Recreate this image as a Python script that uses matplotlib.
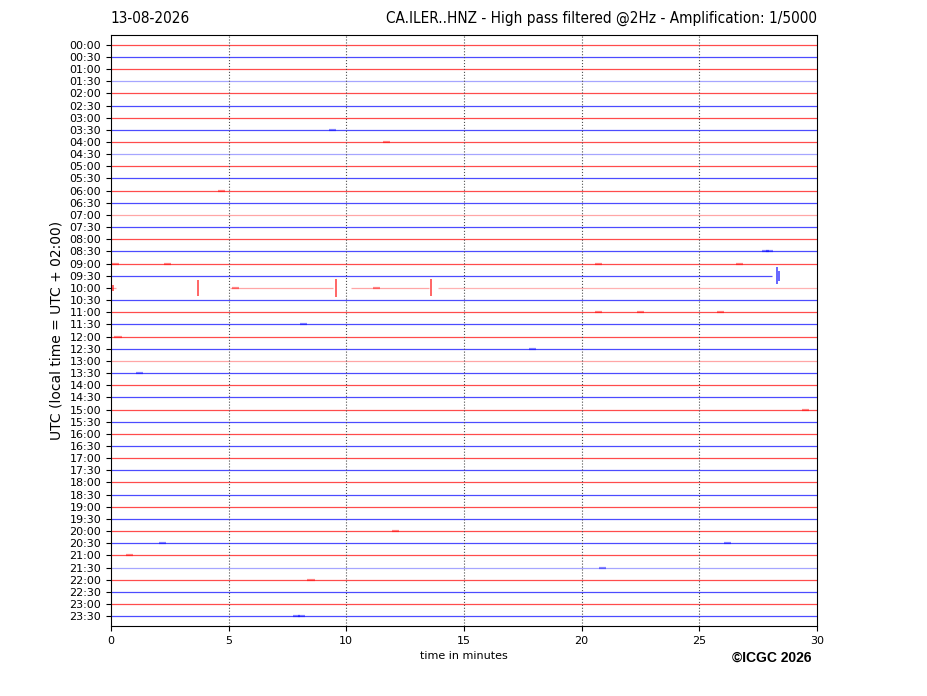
import numpy as np
import matplotlib.pyplot as plt

# helicorder rows: one line every 30 minutes, 48 rows
row_labels = ['%02d:%02d' % (h, m) for h in range(24) for m in (0, 30)]
row_colors = ['red', 'blue'] * 24

# rows drawn fainter (noisier trace)
faint_rows = [3, 9, 14, 20, 26, 43]

# data gaps: row -> list of (start, end) minutes actually recorded
segments = {
    19: [(0.0, 28.1)],
    20: [(0.0, 0.2), (5.05, 9.45), (10.2, 13.5), (13.9, 30.0)],
}

# larger events: (row, minute, half amplitude in row units)
spikes = [
    (20, 0.08, 0.22), (20, 3.70, 0.65), (20, 9.55, 0.75), (20, 13.60, 0.70),
    (19, 28.30, 0.70), (19, 28.40, 0.40),
]

# small bursts seen as short smears on the trace: (row, minute)
blips = [
    (17, 27.80), (17, 28.00), (8, 11.70), (7, 9.40),
    (18, 0.20), (18, 2.40), (18, 20.70), (18, 26.70), (20, 5.30), (20, 11.30),
    (22, 20.70), (22, 22.50), (22, 25.90), (12, 4.70),
    (23, 8.20), (25, 17.90), (27, 1.20), (24, 0.30),
    (41, 26.20), (41, 2.20), (47, 7.90), (47, 8.10),
    (30, 29.50), (40, 12.10), (44, 8.50), (43, 20.90), (42, 0.80),
]

fig = plt.figure(figsize=(9.27, 6.96), dpi=100)
ax = fig.add_axes([0.1197, 0.1006, 0.7616, 0.8491])

for i in range(len(row_labels)):
    col = row_colors[i]
    a = 0.35 if i in faint_rows else 0.7
    for (s, e) in segments.get(i, [(0.0, 30.0)]):
        if i == 20 and s > 13:
            a = 0.3
        ax.plot([s, e], [i, i], color=col, lw=0.9, alpha=a, solid_capstyle='butt')

for (r, t, amp) in spikes:
    ax.vlines(t, r - amp, r + amp, color=row_colors[r], lw=1.2, alpha=0.7)

for (r, t) in blips:
    ax.plot([t - 0.15, t + 0.15], [r, r], color=row_colors[r], lw=1.6, alpha=0.45,
            solid_capstyle='butt')

for x in [5, 10, 15, 20, 25]:
    ax.axvline(x, color='0.3', ls=':', lw=0.8)

ax.set_xlim(0, 30)
ax.set_ylim(47.8, -0.8)
ax.set_xticks([0, 5, 10, 15, 20, 25, 30])
ax.set_yticks(range(len(row_labels)))
ax.set_yticklabels(row_labels)
ax.tick_params(labelsize=8)
ax.set_xlabel('time in minutes', fontsize=8)
ax.set_ylabel('UTC (local time = UTC + 02:00)', fontsize=10)

fig.text(0.1187, 0.963, '13-08-2026', fontsize=11, ha='left', va='bottom',
         fontstretch='condensed')
fig.text(0.8813, 0.963, 'CA.ILER..HNZ - High pass filtered @2Hz - Amplification: 1/5000',
         fontsize=11, ha='right', va='bottom', fontstretch='condensed')
fig.text(0.875, 0.0546, '\u00a9ICGC 2026', fontsize=10, fontweight='bold',
         ha='right', va='center', family='Liberation Sans')

fig.savefig('out.png', dpi=100)
